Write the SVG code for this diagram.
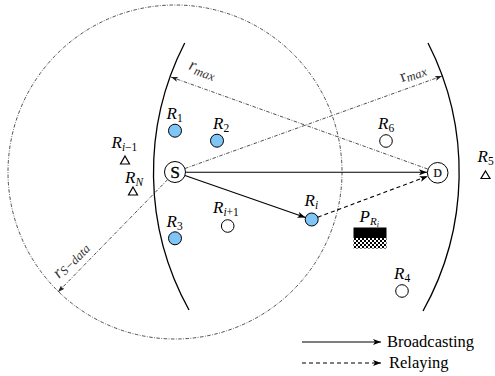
<svg xmlns="http://www.w3.org/2000/svg" width="495" height="376" viewBox="0 0 495 376">
<style>
text{fill:#000;font-family:'Liberation Serif','Times New Roman',serif}
.lbl{font-size:17px;font-style:italic}
.sub{font-size:11.5px}
.dd{fill:none;stroke:#222;stroke-width:0.8;stroke-dasharray:3.5 1.5 0.8 1.5}
.arc{fill:none;stroke:#000;stroke-width:1.3}
.blue{fill:#7fc6f7;stroke:#000;stroke-width:1}
.wh{fill:#fff;stroke:#000;stroke-width:1}
.tri{fill:#fff;stroke:#000;stroke-width:1.2}
.solid{fill:none;stroke:#000;stroke-width:1.1}
.dash{fill:none;stroke:#000;stroke-width:1.1;stroke-dasharray:4 3}
.rl{fill:#333;font-size:17px}
.rs{font-size:12.5px}
</style>
<defs>
<marker id="ah" viewBox="0 0 8 6" refX="8" refY="3" markerWidth="8" markerHeight="6" markerUnits="userSpaceOnUse" orient="auto">
<path d="M0,0 L8,3 L0,6 L2,3 z" fill="#000"/>
</marker>
<marker id="ahs" viewBox="0 0 7 5" refX="7" refY="2.5" markerWidth="7" markerHeight="5" markerUnits="userSpaceOnUse" orient="auto">
<path d="M0,0 L7,2.5 L0,5 L1.5,2.5 z" fill="#222"/>
</marker>
<pattern id="chk" width="4" height="4" patternUnits="userSpaceOnUse" x="354" y="238">
<rect width="4" height="4" fill="#fff"/>
<rect width="2" height="2" fill="#000"/>
<rect x="2" y="2" width="2" height="2" fill="#000"/>
</pattern>
</defs>

<g id="regions">
<circle class="dd" cx="175" cy="172" r="167"/>
<path class="arc" d="M184.7,43 A284,284 0 0 0 189,310"/>
<path class="arc" d="M428,43 A284,284 0 0 1 423,311"/>
</g>

<g id="connectors">
<line class="dd" x1="427.6" y1="169" x2="171" y2="77" marker-end="url(#ahs)"/>
<line class="dd" x1="185" y1="168.5" x2="442" y2="76" marker-end="url(#ahs)"/>
<line class="dd" x1="167.7" y1="179.5" x2="58" y2="292" marker-end="url(#ahs)"/>
<line class="solid" x1="185.5" y1="172.3" x2="427" y2="172.3" marker-end="url(#ah)"/>
<line class="solid" x1="185" y1="175.5" x2="305.5" y2="217.5" marker-end="url(#ah)"/>
<line class="dash" x1="317.8" y1="217.2" x2="427.7" y2="176.2" marker-end="url(#ah)"/>
<text class="rl" transform="translate(188,69) rotate(19.6)" font-style="italic">r<tspan class="rs" dy="3">max</tspan></text>
<text class="rl" transform="translate(402,82) rotate(-19.8)">r<tspan class="rs" font-style="italic" dy="2">max</tspan></text>
<text class="rl" transform="translate(59,279) rotate(-45.7)" font-style="italic">r<tspan class="rs" dy="2">S−data</tspan></text>
</g>

<g id="S">
<circle class="wh" cx="175" cy="172" r="10.5"/>
<text x="175" y="178" font-size="17.5" text-anchor="middle" stroke="#000" stroke-width="0.3">S</text>
</g>
<g id="D">
<circle class="wh" cx="437.7" cy="172.8" r="10.3"/>
<text x="437.7" y="177" font-size="11.5" text-anchor="middle" stroke="#000" stroke-width="0.2">D</text>
</g>

<g id="R1"><circle class="blue" cx="175" cy="130.7" r="6.5"/><text class="lbl" x="166.5" y="118.5">R<tspan class="sub" font-style="normal" dy="3">1</tspan></text></g>
<g id="R2"><circle class="blue" cx="217" cy="140.7" r="6.5"/><text class="lbl" x="213" y="128.5">R<tspan class="sub" font-style="normal" dy="3">2</tspan></text></g>
<g id="R3"><circle class="blue" cx="175" cy="238.3" r="6.5"/><text class="lbl" x="166.5" y="226.7">R<tspan class="sub" font-style="normal" dy="3">3</tspan></text></g>
<g id="Ri"><circle class="blue" cx="311.7" cy="219.5" r="6.5"/><text class="lbl" x="304.5" y="206">R<tspan class="sub" dy="3">i</tspan></text></g>
<g id="Ri1"><circle class="wh" cx="227.7" cy="226" r="6.3"/><text class="lbl" x="213" y="213.3">R<tspan class="sub" dy="3">i</tspan><tspan class="sub" font-style="normal">+1</tspan></text></g>
<g id="R6"><circle class="wh" cx="386" cy="141" r="6.3"/><text class="lbl" x="378" y="129">R<tspan class="sub" font-style="normal" dy="3">6</tspan></text></g>
<g id="R4"><circle class="wh" cx="402" cy="291" r="6.3"/><text class="lbl" x="394" y="279.3">R<tspan class="sub" font-style="normal" dy="3">4</tspan></text></g>
<g id="Rim1"><path class="tri" d="M125,156 L129.5,164 L120.5,164 Z"/><text class="lbl" x="111.5" y="148.3">R<tspan class="sub" dy="3">i</tspan><tspan class="sub" font-style="normal">−1</tspan></text></g>
<g id="RN"><path class="tri" d="M133,187 L137.5,195 L128.5,195 Z"/><text class="lbl" x="125" y="182.7">R<tspan class="sub" dy="3">N</tspan></text></g>
<g id="R5"><path class="tri" d="M485.5,171 L490,178.5 L481,178.5 Z"/><text class="lbl" x="477.5" y="161.5">R<tspan class="sub" font-style="normal" dy="3">5</tspan></text></g>

<g id="PRi">
<rect x="353.5" y="227.5" width="33" height="10.5" fill="#000"/>
<rect x="353.5" y="238" width="33" height="10.5" fill="url(#chk)"/>
<text class="lbl" x="359.5" y="222.3">P<tspan font-size="11" dy="3">R</tspan><tspan font-size="8" dy="2">i</tspan></text>
</g>

<g id="legend">
<line class="solid" x1="302" y1="342" x2="381" y2="342" marker-end="url(#ah)"/>
<text x="387" y="346.5" font-size="16.5">Broadcasting</text>
<line class="dash" x1="302" y1="363" x2="381" y2="363" marker-end="url(#ah)"/>
<text x="389" y="368" font-size="16.5">Relaying</text>
</g>
</svg>
